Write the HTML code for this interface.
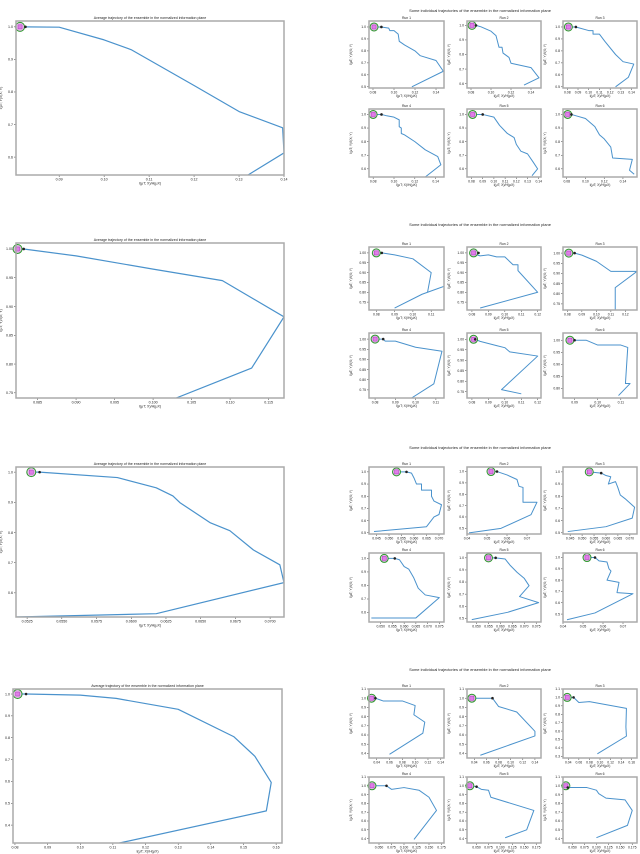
<!DOCTYPE html>
<html><head><meta charset="utf-8"><style>
html,body{margin:0;padding:0;background:#fff;width:640px;height:854px;overflow:hidden}
svg{display:block;font-family:"Liberation Sans",sans-serif}
</style></head><body>
<svg id="fig" width="640" height="854" viewBox="0 0 640 854"></svg>
<script>
// ---------------- DATA ----------------
const avgX = [
 [0.0813,0.0825,0.090,0.100,0.106,0.120,0.130,0.1397,0.140,0.132],
 [0.0824,0.0832,0.090,0.100,0.109,0.117,0.1128,0.103],
 [0.0528,0.0534,0.0590,0.0618,0.0630,0.0635,0.0657,0.0671,0.0688,0.0707,0.0710,0.0618,0.0517],
 [0.0808,0.0834,0.100,0.111,0.130,0.147,0.1535,0.1585,0.157,0.112]
];
const avgY = [
 [1.0,1.0,0.999,0.96,0.93,0.82,0.74,0.69,0.613,0.545],
 [1.0,1.0,0.988,0.965,0.945,0.882,0.793,0.741],
 [1.0,1.0,0.982,0.948,0.921,0.899,0.832,0.806,0.742,0.693,0.634,0.531,0.520],
 [1.0,1.0,0.995,0.98,0.93,0.805,0.715,0.595,0.465,0.318]
];
const avgXTicks = [
 [0.09,0.10,0.11,0.12,0.13,0.14],
 [0.085,0.090,0.095,0.100,0.105,0.110,0.115],
 [0.0525,0.0550,0.0575,0.0600,0.0625,0.0650,0.0675,0.0700],
 [0.08,0.09,0.10,0.11,0.12,0.13,0.14,0.15,0.16]
];
const avgYTicks = [
 [0.6,0.7,0.8,0.9,1.0],
 [0.75,0.80,0.85,0.90,0.95,1.00],
 [0.6,0.7,0.8,0.9,1.0],
 [0.4,0.5,0.6,0.7,0.8,0.9,1.0]
];
const avgXDomain = [[0.0804,0.1400],[0.0822,0.1170],[0.0517,0.0710],[0.0794,0.1618]];
const avgYDomain = [[0.545,1.018],[0.741,1.0104],[0.520,1.017],[0.318,1.023]];
const avgXFmt = [2,3,4,2];
const avgYFmt = [1,2,1,1];

const runX = [
 [[0.081,0.088,0.095,0.096,0.1,0.104,0.105,0.11,0.12,0.125,0.14,0.147,0.117],
  [0.081,0.085,0.09,0.1,0.105,0.108,0.111,0.112,0.118,0.12,0.14,0.148,0.133],
  [0.081,0.088,0.1,0.104,0.104,0.11,0.115,0.125,0.132,0.142,0.137,0.125],
  [0.08,0.088,0.093,0.1,0.105,0.105,0.107,0.107,0.11,0.12,0.13,0.142,0.145,0.13],
  [0.081,0.09,0.1,0.105,0.112,0.118,0.12,0.124,0.13,0.135,0.139,0.134],
  [0.081,0.085,0.09,0.1,0.11,0.115,0.12,0.127,0.129,0.15,0.147,0.152]],
 [[0.08,0.083,0.09,0.1,0.11,0.108,0.117,0.105,0.09],
  [0.081,0.084,0.083,0.085,0.09,0.095,0.1,0.105,0.108,0.108,0.12,0.085],
  [0.081,0.085,0.09,0.1,0.11,0.128,0.113,0.113],
  [0.08,0.084,0.085,0.09,0.1,0.113,0.109,0.098],
  [0.081,0.082,0.085,0.095,0.1,0.103,0.12,0.098,0.11],
  [0.088,0.09,0.095,0.1,0.11,0.113,0.112,0.114,0.109]],
 [[0.053,0.057,0.059,0.06,0.061,0.063,0.063,0.067,0.067,0.068,0.071,0.07,0.068,0.065,0.044],
  [0.052,0.055,0.06,0.065,0.066,0.068,0.068,0.075,0.072,0.057,0.041],
  [0.053,0.058,0.06,0.062,0.061,0.064,0.065,0.066,0.068,0.072,0.071,0.06,0.044],
  [0.0515,0.056,0.058,0.06,0.062,0.064,0.066,0.069,0.075,0.065,0.046],
  [0.055,0.058,0.062,0.064,0.067,0.07,0.072,0.068,0.076,0.063,0.048],
  [0.052,0.056,0.058,0.062,0.063,0.064,0.062,0.068,0.067,0.075,0.056,0.042]],
 [[0.032,0.038,0.05,0.08,0.1,0.098,0.115,0.112,0.06],
  [0.036,0.07,0.08,0.11,0.14,0.14,0.05],
  [0.038,0.05,0.06,0.08,0.15,0.149,0.15,0.095],
  [0.036,0.065,0.075,0.1,0.13,0.15,0.165,0.12],
  [0.036,0.05,0.06,0.075,0.08,0.17,0.155,0.11],
  [0.036,0.04,0.08,0.1,0.105,0.12,0.16,0.175,0.165,0.1]]
];
const runY = [
 [[1.0,1.0,0.99,0.97,0.97,0.94,0.88,0.85,0.8,0.76,0.72,0.63,0.5],
  [1.0,1.0,0.99,0.96,0.93,0.85,0.85,0.81,0.78,0.74,0.71,0.64,0.59],
  [1.0,1.0,0.97,0.97,0.94,0.94,0.88,0.77,0.71,0.69,0.58,0.5],
  [1.0,1.0,0.99,0.98,0.96,0.91,0.9,0.86,0.85,0.8,0.74,0.69,0.63,0.54],
  [1.0,1.0,0.98,0.92,0.86,0.83,0.78,0.73,0.71,0.65,0.6,0.55],
  [1.0,1.0,0.99,0.97,0.91,0.85,0.82,0.76,0.68,0.67,0.59,0.56]],
 [[1.0,1.0,0.99,0.97,0.9,0.8,0.83,0.79,0.72],
  [1.0,1.0,0.99,0.985,0.99,0.98,0.98,0.94,0.94,0.91,0.8,0.72],
  [1.0,1.0,0.99,0.96,0.91,0.91,0.83,0.72],
  [1.0,1.0,0.99,0.99,0.96,0.94,0.78,0.71],
  [1.0,1.0,0.99,0.97,0.96,0.94,0.92,0.76,0.74],
  [1.0,1.0,1.0,0.98,0.98,0.97,0.82,0.82,0.77]],
 [[1.0,1.0,0.99,0.95,0.9,0.9,0.85,0.85,0.8,0.76,0.73,0.65,0.63,0.55,0.51],
  [1.0,1.0,0.97,0.93,0.87,0.86,0.73,0.73,0.62,0.5,0.46],
  [1.0,0.99,0.97,0.96,0.9,0.92,0.87,0.81,0.78,0.71,0.62,0.55,0.51],
  [1.0,1.0,0.99,0.94,0.92,0.86,0.78,0.73,0.71,0.56,0.56],
  [1.0,1.0,0.99,0.94,0.88,0.83,0.77,0.68,0.63,0.55,0.49],
  [1.0,1.0,0.97,0.96,0.9,0.88,0.8,0.78,0.69,0.68,0.51,0.45]],
 [[1.0,1.0,0.97,0.97,0.92,0.82,0.74,0.62,0.39],
  [1.0,1.0,0.91,0.85,0.64,0.59,0.38],
  [1.0,1.0,0.94,0.95,0.87,0.65,0.54,0.33],
  [1.0,1.0,0.96,0.98,0.95,0.87,0.72,0.39],
  [1.0,0.99,0.96,0.95,0.87,0.72,0.5,0.41],
  [1.0,0.98,0.98,0.95,0.91,0.86,0.84,0.72,0.55,0.41]]
];
const runXDomain = [
 [[0.0762,0.1476],[0.076,0.150],[0.076,0.145],[0.076,0.148],[0.076,0.142],[0.076,0.155]],
 [[0.076,0.117],[0.077,0.122],[0.077,0.128],[0.077,0.114],[0.077,0.122],[0.085,0.117]],
 [[0.042,0.072],[0.040,0.077],[0.042,0.073],[0.045,0.077],[0.046,0.077],[0.040,0.077]],
 [[0.028,0.145],[0.028,0.150],[0.030,0.170],[0.030,0.180],[0.030,0.185],[0.030,0.185]]
];
const runYDomain = [
 [[0.49,1.05],[0.57,1.03],[0.49,1.05],[0.54,1.04],[0.54,1.04],[0.54,1.04]],
 [[0.71,1.03],[0.71,1.03],[0.72,1.03],[0.71,1.03],[0.72,1.03],[0.76,1.03]],
 [[0.49,1.04],[0.45,1.04],[0.49,1.04],[0.53,1.04],[0.47,1.04],[0.43,1.04]],
 [[0.35,1.1],[0.35,1.1],[0.28,1.1],[0.35,1.1],[0.35,1.1],[0.35,1.1]]
];
const runXTicks = [
 [[0.08,0.10,0.12,0.14],[0.08,0.10,0.12,0.14],[0.08,0.09,0.10,0.11,0.12,0.13,0.14],[0.08,0.10,0.12,0.14],[0.08,0.09,0.10,0.11,0.12,0.13,0.14],[0.08,0.10,0.12,0.14]],
 [[0.08,0.09,0.10,0.11],[0.08,0.09,0.10,0.11,0.12],[0.08,0.09,0.10,0.11,0.12],[0.08,0.09,0.10,0.11],[0.08,0.09,0.10,0.11,0.12],[0.09,0.10,0.11]],
 [[0.045,0.050,0.055,0.060,0.065,0.070],[0.04,0.05,0.06,0.07],[0.045,0.050,0.055,0.060,0.065,0.070],[0.050,0.055,0.060,0.065,0.070,0.075],[0.050,0.055,0.060,0.065,0.070,0.075],[0.04,0.05,0.06,0.07]],
 [[0.04,0.06,0.08,0.10,0.12,0.14],[0.04,0.06,0.08,0.10,0.12,0.14],[0.04,0.06,0.08,0.10,0.12,0.14,0.16],[0.050,0.075,0.100,0.125,0.150,0.175],[0.050,0.075,0.100,0.125,0.150,0.175],[0.050,0.075,0.100,0.125,0.150,0.175]]
];
const runYTicks = [
 [[0.5,0.6,0.7,0.8,0.9,1.0],[0.6,0.7,0.8,0.9,1.0],[0.5,0.6,0.7,0.8,0.9,1.0],[0.6,0.7,0.8,0.9,1.0],[0.6,0.7,0.8,0.9,1.0],[0.6,0.7,0.8,0.9,1.0]],
 [[0.75,0.80,0.85,0.90,0.95,1.00],[0.75,0.80,0.85,0.90,0.95,1.00],[0.75,0.80,0.85,0.90,0.95,1.00],[0.75,0.80,0.85,0.90,0.95,1.00],[0.75,0.80,0.85,0.90,0.95,1.00],[0.80,0.85,0.90,0.95,1.00]],
 [[0.5,0.6,0.7,0.8,0.9,1.0],[0.5,0.6,0.7,0.8,0.9,1.0],[0.5,0.6,0.7,0.8,0.9,1.0],[0.6,0.7,0.8,0.9,1.0],[0.5,0.6,0.7,0.8,0.9,1.0],[0.5,0.6,0.7,0.8,0.9,1.0]],
 [[0.4,0.5,0.6,0.7,0.8,0.9,1.0,1.1],[0.4,0.5,0.6,0.7,0.8,0.9,1.0,1.1],[0.3,0.4,0.5,0.6,0.7,0.8,0.9,1.0,1.1],[0.4,0.5,0.6,0.7,0.8,0.9,1.0,1.1],[0.4,0.5,0.6,0.7,0.8,0.9,1.0,1.1],[0.4,0.5,0.6,0.7,0.8,0.9,1.0,1.1]]
];
const runXFmt = [[2,2,2,2,2,2],[2,2,2,2,2,2],[3,2,3,3,3,2],[2,2,2,3,3,3]];
const runYFmt = [1,2,1,1];
const runTitles = ["Run 1","Run 2","Run 3","Run 4","Run 5","Run 6"];
const avgTitle = "Average trajectory of the ensemble in the normalized information plane";
const runsTitle = "Some individual trajectories of the ensemble in the normalized information plane";

// ---------------- LAYOUT ----------------
const NS="http://www.w3.org/2000/svg";
const svg=document.getElementById('fig');
const bigBoxes=[[16,21,284,175],[16,243,284,398],[16,467,284,617],[13,689,282,843]];
const smallRows=[[21,88,109,177],[247,310,333,398],[467,534,553,622],[689,758,777,843]];
const smallCols=[[369,444],[467,541],[563,637]];
const suptitleY=[12,226,449,671];
const LINE="#4a92cc";

function el(tag,attrs,parent){const e=document.createElementNS(NS,tag);for(const k in attrs)e.setAttribute(k,attrs[k]);(parent||svg).appendChild(e);return e;}
function txt(x,y,s,size,anchor,parent,rot){const t=el('text',{x:x,y:y,'font-size':size,'text-anchor':anchor||'middle',fill:'#222'},parent);if(rot)t.setAttribute('transform','rotate(-90 '+x+' '+y+')');t.textContent=s;return t;}

function drawPanel(box,xd,yd,xs,ys,xt,yt,xf,yf,title,name,fs,isSmall){
  const [x0,y0,x1,y1]=box;
  const g=el('g',{});
  
  
  const sx=v=>x0+(v-xd[0])/(xd[1]-xd[0])*(x1-x0);
  const sy=v=>y1-(v-yd[0])/(yd[1]-yd[0])*(y1-y0);
  const xa=el('g',{},g);
  xt.forEach(v=>{const px=sx(v);if(px<x0-1||px>x1+1)return;el('line',{x1:px,y1:y1,x2:px,y2:y1+2,stroke:'#333','stroke-width':0.5},xa);const t=txt(px,y1+2+fs,v.toFixed(xf),fs,'middle',xa);});
  const ya=el('g',{},g);
  yt.forEach(v=>{const py=sy(v);if(py<y0-1||py>y1+1)return;el('line',{x1:x0-2,y1:py,x2:x0,y2:py,stroke:'#333','stroke-width':0.5},ya);const t=txt(x0-3,py+fs*0.35,v.toFixed(yf),fs,'end',ya);});
  const xl=txt((x0+x1)/2,y1+2+fs*2.1,"I(μT; X)/H(μX)",fs,'middle',g);
  
  const ylx=x0-(isSmall?17:14);
  const yl=txt(ylx,(y0+y1)/2,"I(μT; Y)/I(X; Y)",fs,'middle',g,true);
  
  const tt=txt((x0+x1)/2,y0-2,title,fs,'middle',g);
  
  const cid='c'+name;
  const cp=el('clipPath',{id:cid},g);el('rect',{x:x0,y:y0,width:x1-x0,height:y1-y0},cp);
  const pts=xs.map((v,i)=>sx(v).toFixed(2)+','+sy(ys[i]).toFixed(2)).join(' ');
  const pl=el('polyline',{points:pts,fill:'none',stroke:LINE,'stroke-width':isSmall?1:1.2,'stroke-linejoin':'round','clip-path':'url(#'+cid+')'},g);
  
  const r=isSmall?4:4.5;
  const sm=el('circle',{cx:sx(xs[0]),cy:sy(ys[0]),r:r,fill:'#e3b6e6',stroke:'#2a9a2a','stroke-width':1},g);
  
  el('rect',{x:sx(xs[0])-2,y:sy(ys[0])-2,width:4,height:4,fill:'#e07ee8',stroke:'#b040c0','stroke-width':0.5},g);
  const em=el('circle',{cx:sx(xs[1]),cy:sy(ys[1]),r:1.3,fill:'#222'},g);
  
  el('rect',{x:x0,y:y0,width:x1-x0,height:y1-y0,fill:'none',stroke:'#aaa','stroke-width':1.5},g);
}

for(let r=0;r<4;r++){
  drawPanel(bigBoxes[r],avgXDomain[r],avgYDomain[r],avgX[r],avgY[r],avgXTicks[r],avgYTicks[r],avgXFmt[r],avgYFmt[r],avgTitle,'average-chart-'+(r+1),3.6,false);
  const st=txt(480,suptitleY[r],runsTitle,4,'middle');
  
  for(let k=0;k<6;k++){
    const c=smallCols[k%3];const rr=smallRows[r];
    const box=k<3?[c[0],rr[0],c[1],rr[1]]:[c[0],rr[2],c[1],rr[3]];
    drawPanel(box,runXDomain[r][k],runYDomain[r][k],runX[r][k],runY[r][k],runXTicks[r][k],runYTicks[r][k],runXFmt[r][k],runYFmt[r],runTitles[k],'run-chart-'+(r+1)+'-'+(k+1),3.4,true);
  }
}
</script>
</body></html>
